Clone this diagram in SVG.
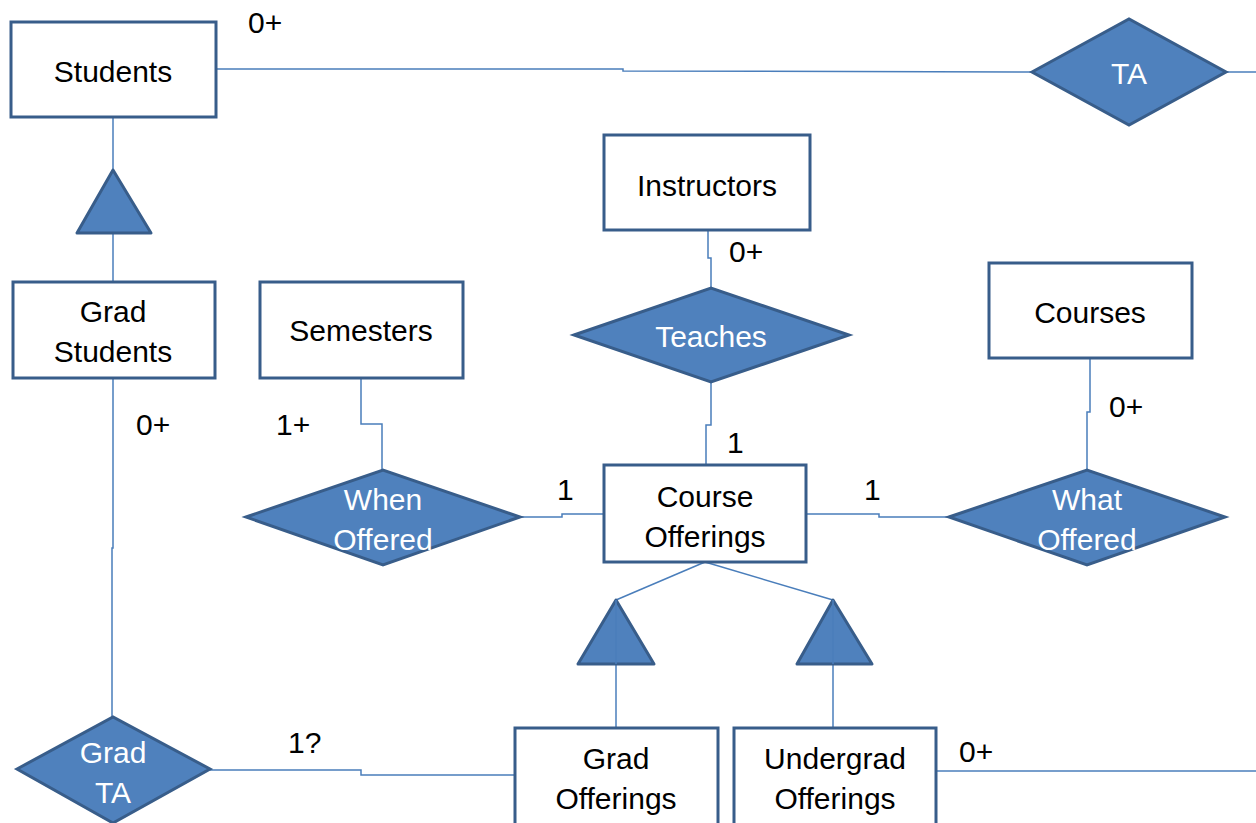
<svg xmlns="http://www.w3.org/2000/svg" width="1256" height="823" viewBox="0 0 1256 823">
<style>
.box{fill:#fff;stroke:#385D8A;stroke-width:3}
.rel{fill:#4F81BD;stroke:#385D8A;stroke-width:3;stroke-linejoin:miter}
.isa{fill:#4F81BD;stroke:#385D8A;stroke-width:3;stroke-linejoin:round}
.ln{fill:none;stroke:#4A7EBB;stroke-width:1.5}
text{font-family:"Liberation Sans",Arial,sans-serif;font-size:30px;text-anchor:middle;dominant-baseline:central}
.dk{fill:#000}
.wt{fill:#fff}
.lbl{fill:#000;text-anchor:start}
</style>
<rect width="1256" height="823" fill="#fff"/>
<g id="connectors">
<polyline class="ln" points="216,69 623,69 623,71 1032,72"/>
<line class="ln" x1="1226" y1="72" x2="1256" y2="72"/>
<line class="ln" x1="113" y1="117" x2="113" y2="170"/>
<line class="ln" x1="113" y1="233" x2="113" y2="282"/>
<polyline class="ln" points="708,230 708,258 711,258 711,288"/>
<polyline class="ln" points="711,382 711,425 706,425 706,465"/>
<polyline class="ln" points="361,378 361,424 382,424 382,470"/>
<polyline class="ln" points="520,517 562,517 562,514 604,514"/>
<polyline class="ln" points="1090,358 1090,412 1087,412 1087,470"/>
<polyline class="ln" points="806,514 879,514 879,517 949,517"/>
<line class="ln" x1="705" y1="562" x2="616" y2="600"/>
<line class="ln" x1="705" y1="562" x2="833" y2="600"/>
<line class="ln" x1="616" y1="600" x2="616" y2="728"/>
<line class="ln" x1="833" y1="600" x2="833" y2="728"/>
<line class="ln" x1="936" y1="771" x2="1256" y2="771"/>
<polyline class="ln" points="113,378 113,548 112,548 112,717"/>
<polyline class="ln" points="210,770 361,770 361,775 515,775"/>
</g>
<g id="students"><rect class="box" x="11" y="22" width="205" height="95"/><text class="dk" x="113" y="71">Students</text></g>
<g id="ta"><polygon class="rel" points="1032,72 1129,19 1226,72 1129,125"/><text class="wt" x="1129" y="73">TA</text></g>
<g id="isa-students"><polygon class="isa" points="113,170 151,233 77,233"/></g>
<g id="grad-students"><rect class="box" x="13" y="282" width="202" height="96"/><text class="dk" x="113" y="311">Grad</text><text class="dk" x="113" y="351">Students</text></g>
<g id="semesters"><rect class="box" x="260" y="282" width="203" height="96"/><text class="dk" x="361" y="330">Semesters</text></g>
<g id="instructors"><rect class="box" x="604" y="135" width="206" height="95"/><text class="dk" x="707" y="185">Instructors</text></g>
<g id="courses"><rect class="box" x="989" y="263" width="203" height="95"/><text class="dk" x="1090" y="312">Courses</text></g>
<g id="teaches"><polygon class="rel" points="574,335 711,288 849,335 711,382"/><text class="wt" x="711" y="336">Teaches</text></g>
<g id="course-offerings"><rect class="box" x="604" y="465" width="202" height="97"/><text class="dk" x="705" y="496">Course</text><text class="dk" x="705" y="536">Offerings</text></g>
<g id="when-offered"><polygon class="rel" points="246,517 383,470 520,517 383,565"/><text class="wt" x="383" y="499">When</text><text class="wt" x="383" y="539">Offered</text></g>
<g id="what-offered"><polygon class="rel" points="949,517 1087,470 1225,517 1087,565"/><text class="wt" x="1087" y="499">What</text><text class="wt" x="1087" y="539">Offered</text></g>
<g id="isa-grad"><polygon class="isa" points="616,600 654,664 578,664"/><line class="ln" x1="616" y1="600" x2="616" y2="664"/></g>
<g id="isa-undergrad"><polygon class="isa" points="833,600 872,664 797,664"/><line class="ln" x1="833" y1="600" x2="833" y2="664"/></g>
<g id="grad-offerings"><rect class="box" x="515" y="728" width="203" height="100"/><text class="dk" x="616" y="758">Grad</text><text class="dk" x="616" y="798">Offerings</text></g>
<g id="undergrad-offerings"><rect class="box" x="734" y="728" width="202" height="100"/><text class="dk" x="835" y="758">Undergrad</text><text class="dk" x="835" y="798">Offerings</text></g>
<g id="grad-ta"><polygon class="rel" points="17,769 113,717 210,769 113,823"/><text class="wt" x="113" y="752">Grad</text><text class="wt" x="113" y="792">TA</text></g>
<g id="labels">
<text class="lbl" x="248" y="22">0+</text>
<text class="lbl" x="729" y="251">0+</text>
<text class="lbl" x="727" y="442">1</text>
<text class="lbl" x="276" y="424">1+</text>
<text class="lbl" x="557" y="489">1</text>
<text class="lbl" x="864" y="489">1</text>
<text class="lbl" x="1109" y="406">0+</text>
<text class="lbl" x="136" y="424">0+</text>
<text class="lbl" x="288" y="742">1?</text>
<text class="lbl" x="959" y="751">0+</text>
</g>
</svg>
